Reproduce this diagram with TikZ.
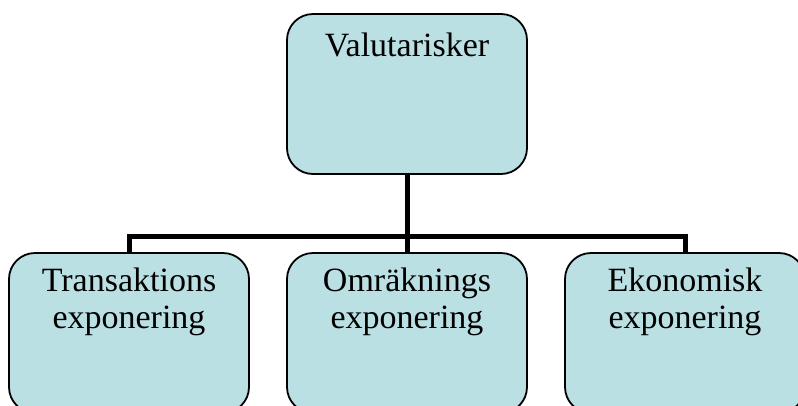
\documentclass[tikz,border=0pt]{standalone}
\usepackage{fontspec}
\setmainfont{Liberation Serif}
\definecolor{boxfill}{HTML}{BBE0E3}
\begin{document}
\begin{tikzpicture}[x=1pt,y=-1pt,
  orgbox/.style={draw=black, line width=1.8pt, fill=boxfill, rounded corners=26pt,
    minimum width=240pt, minimum height=160pt, inner sep=0pt},
  boxtext/.style={anchor=base, align=center, inner sep=0pt,
    font=\fontsize{34}{37}\selectfont},
  conn/.style={draw=black, line width=5pt}]
  \useasboundingbox (0,0) rectangle (798,405);
  \clip (0,0) rectangle (798,405);

  % boxes
  \node[orgbox] (risk) at (407,94) {};
  \node[orgbox] (trans) at (129,333) {};
  \node[orgbox] (omr) at (407,333) {};
  \node[orgbox] (eko) at (685,333) {};

  % labels (base anchor sits on the last line)
  \node[boxtext] (risklbl) at (407,56) {Valutarisker};
  \node[boxtext] (translbl) at (129,328) {Transaktions\\exponering};
  \node[boxtext] (omrlbl) at (407,328) {Omräknings\\exponering};
  \node[boxtext] (ekolbl) at (685,328) {Ekonomisk\\exponering};

  % connectors
  \coordinate (bus) at (407,236);
  \draw[conn] (risk.south) -- (bus);
  \draw[conn] (trans.north) -- (trans.north |- bus) -- (eko.north |- bus) -- (eko.north);
  \draw[conn] (omr.north) -- (omr.north |- bus);
\end{tikzpicture}
\end{document}
